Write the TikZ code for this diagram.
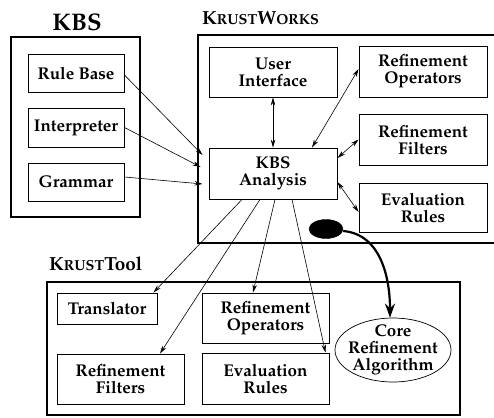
\documentclass[tikz,border=0pt]{standalone}
\usepackage[T1]{fontenc}
\usepackage{mathpazo}
\usetikzlibrary{arrows.meta,shapes.geometric,calc}
\newcommand\smc[1]{{\fontsize{14.5}{17}\selectfont #1}}
\begin{document}
\begin{tikzpicture}[x=1pt,y=-1pt,
  box/.style={draw,line width=0.9pt,inner sep=0pt,align=center,font=\fontsize{17}{17}\selectfont\bfseries},
  outer/.style={draw,line width=1.6pt},
  title/.style={inner sep=0pt,font=\bfseries},
  arr/.style={-{Stealth[length=8pt,width=4.5pt]},line width=0.6pt},
  darr/.style={{Stealth[length=8pt,width=4.5pt]}-{Stealth[length=8pt,width=4.5pt]},line width=0.6pt}]
\useasboundingbox (0,0) rectangle (494,417);
% KBS
\draw[outer] (11,37) rectangle (140,217);
\node[title,font=\fontsize{24}{26}\selectfont\bfseries] (kbst) at (77,22) {KBS};
\node[box,minimum width=96pt,minimum height=38pt] (rb) at (76,73) {Rule Base};
\node[box,minimum width=96pt,minimum height=39pt] (ip) at (76,127.5) {Interpreter};
\node[box,minimum width=96pt,minimum height=38pt] (gr) at (76,182) {Grammar};
% KRUSTWORKS
\draw[outer] (496,35) -- (198,35) -- (198,243) -- (496,243);
\node[title,anchor=base west,font=\fontsize{19}{22}\selectfont\bfseries] (kwt) at (202,25) {K\smc{RUST}W\smc{ORKS}};
\node[box,minimum width=128pt,minimum height=50pt] (ui) at (273,72) {User\\Interface};
\node[box,minimum width=128pt,minimum height=51pt] (an) at (273,173.5) {KBS\\Analysis};
\node[box,minimum width=128pt,minimum height=51pt] (ro) at (423,71.5) {Refinement\\Operators};
\node[box,minimum width=128pt,minimum height=51pt] (rf) at (423,139.5) {Refinement\\Filters};
\node[box,minimum width=128pt,minimum height=49pt] (er) at (423,207.5) {Evaluation\\Rules};
\node[draw,fill=black,ellipse,minimum width=34pt,minimum height=19pt,inner sep=0pt] (blob) at (326,229) {};
% KRUSTTool
\draw[outer] (47,282) rectangle (460,415);
\node[title,anchor=base west,font=\fontsize{19}{22}\selectfont\bfseries] (ktt) at (49,270) {K\smc{RUST}Tool};
\node[box,minimum width=100pt,minimum height=31pt] (tr) at (107,308.5) {Translator};
\node[box,minimum width=127pt,minimum height=50pt] (ro2) at (265.5,318) {Refinement\\Operators};
\node[box,minimum width=127pt,minimum height=50pt] (rf2) at (120.5,379) {Refinement\\Filters};
\node[box,minimum width=127pt,minimum height=51pt] (er2) at (265.5,378.5) {Evaluation\\Rules};
\node[draw,ellipse,minimum width=116pt,minimum height=64pt,inner sep=0pt,line width=0.7pt] (core) at (393,350) {};
\node[box,draw=none] (coret) at (core.center) {Core\\Refinement\\Algorithm};
% connectors
\draw[arr] ([yshift=-2pt]rb.east) -- ([xshift=-6pt,yshift=18.5pt]an.west);
\draw[arr] (ip.east) -- ([xshift=-8pt,yshift=6.5pt]an.west);
\draw[arr] ([yshift=5pt]gr.east) -- ([xshift=-6pt,yshift=-10.5pt]an.west);
\draw[darr] (ui.south) -- (an.north);
\draw[darr] ([xshift=39pt]an.north) -- ([yshift=2.5pt]ro.west);
\draw[darr] ([yshift=15.5pt]an.east) -- (rf.west);
\draw[darr] ([yshift=-8.5pt]an.east) -- ([yshift=-4.5pt]er.west);
\draw[arr] ([xshift=-31pt]an.south) -- ([xshift=-4pt]tr.north east);
\draw[arr] ([xshift=-13pt]an.south) -- ([xshift=39.5pt]rf2.north);
\draw[arr] ([xshift=2pt]an.south) -- ([xshift=-12.5pt]ro2.north);
\draw[arr] ([xshift=19pt]an.south) -- ([xshift=-4pt]er2.north east);
\draw[-{Stealth[length=14pt,width=10pt]},line width=2.2pt] ([yshift=-2pt]blob.east) to[out=-5,in=90] ([xshift=-3pt]core.north);
\end{tikzpicture}
\end{document}
